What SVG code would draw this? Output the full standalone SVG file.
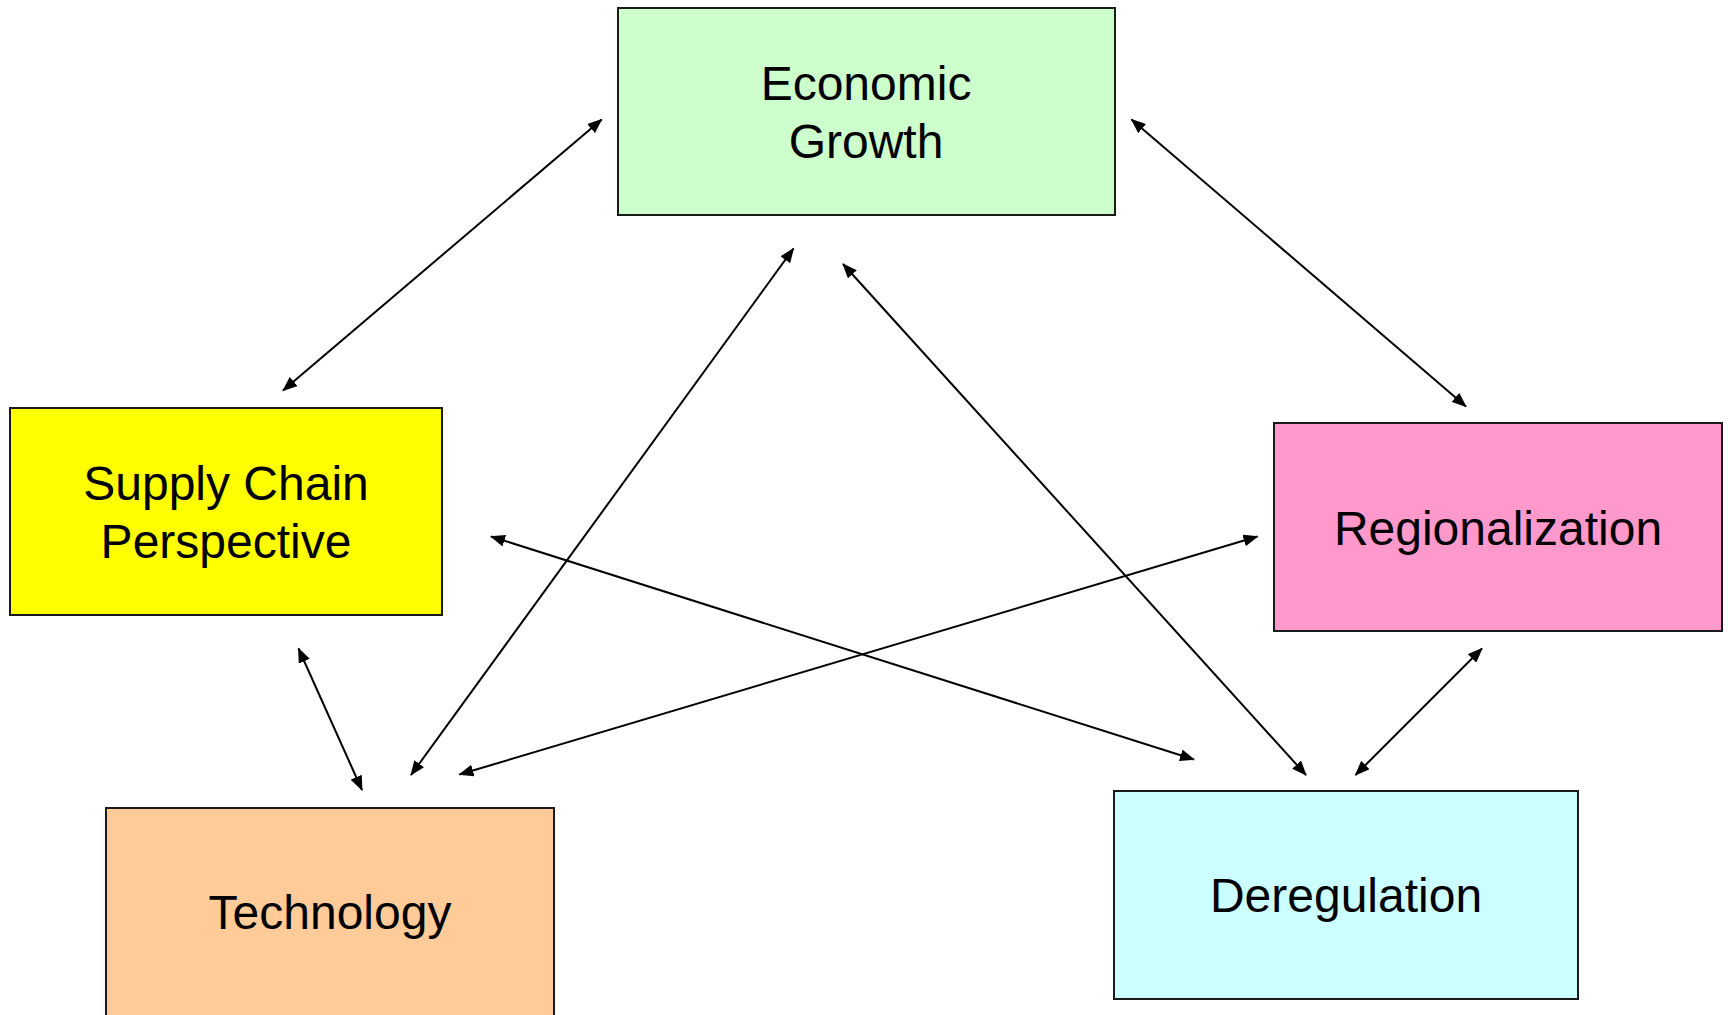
<svg xmlns="http://www.w3.org/2000/svg" width="1728" height="1015" viewBox="0 0 1728 1015">
<style>
.box{stroke:#1a1a1a;stroke-width:2}
.lbl{font-family:"Liberation Sans",Arial,sans-serif;font-size:48px;fill:#000;text-anchor:middle}
.conn{stroke:#000;stroke-width:2;fill:none;marker-start:url(#ah);marker-end:url(#ah)}
</style>
<defs>
<marker id="ah" viewBox="0 0 15 12" refX="14" refY="6" markerWidth="15" markerHeight="12" markerUnits="userSpaceOnUse" orient="auto-start-reverse">
<path d="M0,0 L15,6 L0,12 z" fill="#000"/>
</marker>
</defs>
<rect width="1728" height="1015" fill="#fff"/>
<g id="econ">
<rect class="box" x="618" y="8" width="497" height="207" fill="#CCFFCC"/>
<text class="lbl" x="866" y="100">Economic</text>
<text class="lbl" x="866" y="158">Growth</text>
</g>
<g id="supply">
<rect class="box" x="10" y="408" width="432" height="207" fill="#FFFF00"/>
<text class="lbl" x="226" y="500">Supply Chain</text>
<text class="lbl" x="226" y="558">Perspective</text>
</g>
<g id="region">
<rect class="box" x="1274" y="423" width="448" height="208" fill="#FF99CC"/>
<text class="lbl" x="1498" y="545">Regionalization</text>
</g>
<g id="tech">
<rect class="box" x="106" y="808" width="448" height="215" fill="#FFCC99"/>
<text class="lbl" x="330" y="929">Technology</text>
</g>
<g id="dereg">
<rect class="box" x="1114" y="791" width="464" height="208" fill="#CCFFFF"/>
<text class="lbl" x="1346" y="912">Deregulation</text>
</g>
<g id="connectors">
<line class="conn" x1="601.7" y1="119.5" x2="283" y2="390.5"/>
<line class="conn" x1="1131.5" y1="119.5" x2="1466" y2="406.5"/>
<line class="conn" x1="793.5" y1="248.5" x2="411" y2="775"/>
<line class="conn" x1="843" y1="264" x2="1306" y2="775"/>
<line class="conn" x1="491" y1="536.5" x2="1194" y2="759.5"/>
<line class="conn" x1="1257.5" y1="536.5" x2="459.5" y2="774.5"/>
<line class="conn" x1="298.5" y1="648.5" x2="362" y2="790"/>
<line class="conn" x1="1482" y1="648.5" x2="1355.5" y2="775"/>
</g>
</svg>
